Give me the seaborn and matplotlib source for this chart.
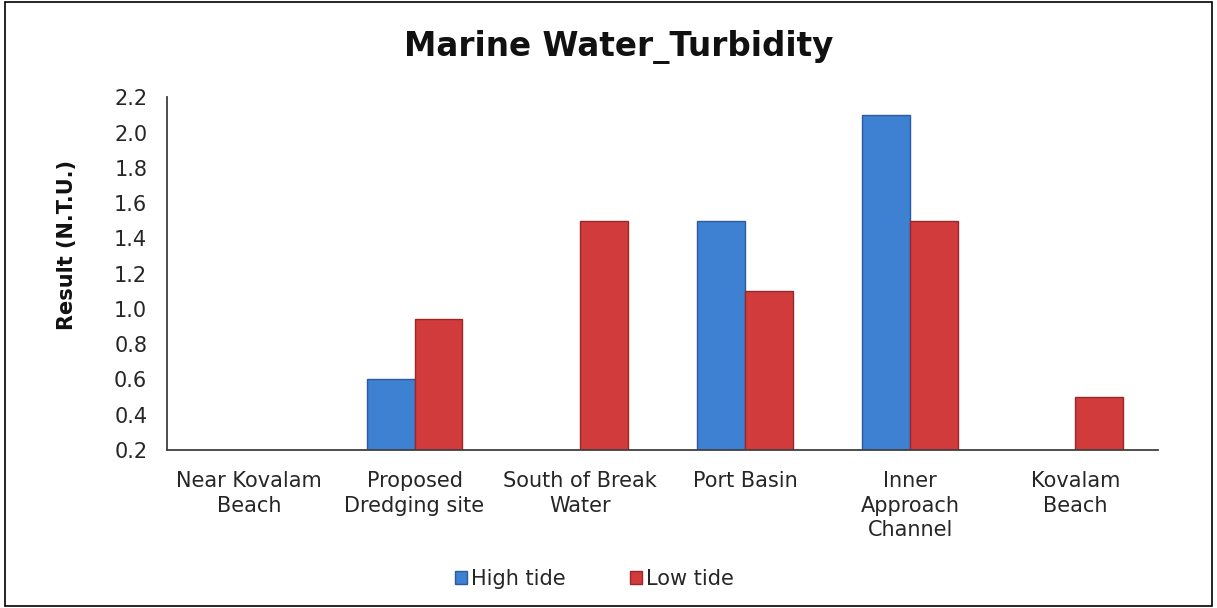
import numpy as np
import pandas as pd
import matplotlib
matplotlib.use("Agg")
import matplotlib.pyplot as plt
import seaborn as sns
from matplotlib.patches import Rectangle, Patch

categories = ["Near Kovalam\nBeach", "Proposed\nDredging site", "South of Break\nWater",
              "Port Basin", "Inner\nApproach\nChannel", "Kovalam\nBeach"]
high_tide = [np.nan, 0.6, np.nan, 1.5, 2.1, np.nan]
low_tide = [np.nan, 0.94, 1.5, 1.1, 1.5, 0.5]
series_names = ["High tide", "Low tide"]
y_ticks = [0.2, 0.4, 0.6, 0.8, 1.0, 1.2, 1.4, 1.6, 1.8, 2.0, 2.2]

df = pd.DataFrame({
    "Location": categories * 2,
    "Tide": [series_names[0]] * len(categories) + [series_names[1]] * len(categories),
    "Value": high_tide + low_tide,
})

sns.set_theme(style="white")
plt.rcParams['font.family'] = ['DejaVu Sans']

fig = plt.figure(figsize=(12.17, 6.08), dpi=100)
ax = fig.add_axes([0.137, 0.26, 0.8145, 0.58])

palette = {"High tide": "#3e80d2", "Low tide": "#d23b3b"}
sns.barplot(data=df, x="Location", y="Value", hue="Tide", order=categories,
            hue_order=series_names, palette=palette, width=0.58, gap=0,
            saturation=1, ax=ax, legend=False)

edge = {"High tide": "#2a5c9e", "Low tide": "#982727"}
for cont, name in zip(ax.containers, series_names):
    for bar in cont:
        bar.set_edgecolor(edge[name])
        bar.set_linewidth(1.0)

ax.set_ylim(0.2, 2.2)
ax.set_yticks(y_ticks)
ax.set_yticklabels([f"{t:.1f}" for t in y_ticks], fontsize=15, color="#262626")
ax.tick_params(axis="x", labelsize=15, colors="#262626", length=0, pad=15)
for lab in ax.get_xticklabels():
    lab.set_linespacing(1.3)
ax.tick_params(axis="y", length=0, pad=14)
ax.set_xlabel("")
ax.set_ylabel("Result (N.T.U.)", fontsize=15, fontweight="bold", color="#111111")
ax.yaxis.set_label_coords(-0.091, 0.58)
for s in ["top", "right"]:
    ax.spines[s].set_visible(False)
for s in ["left", "bottom"]:
    ax.spines[s].set_color("#404040")
    ax.spines[s].set_linewidth(1.3)
ax.set_xlim(-0.5, len(categories) - 0.5)

fig.suptitle("Marine Water_Turbidity", x=0.508, y=0.95, fontsize=23.5, fontweight="bold",
             color="#111111")

handles = [Patch(facecolor=palette[n], edgecolor=edge[n]) for n in series_names]
fig.legend(handles, series_names, loc="center", bbox_to_anchor=(0.4885, 0.048), ncol=2,
           frameon=False, fontsize=15, handlelength=0.55, handleheight=0.55,
           handletextpad=0.2, columnspacing=3.1)

fig.patches.append(Rectangle((0.004, 0.004), 0.992, 0.992, transform=fig.transFigure,
                             fill=False, edgecolor="black", linewidth=1.2))

fig.savefig("out.png", dpi=100)
